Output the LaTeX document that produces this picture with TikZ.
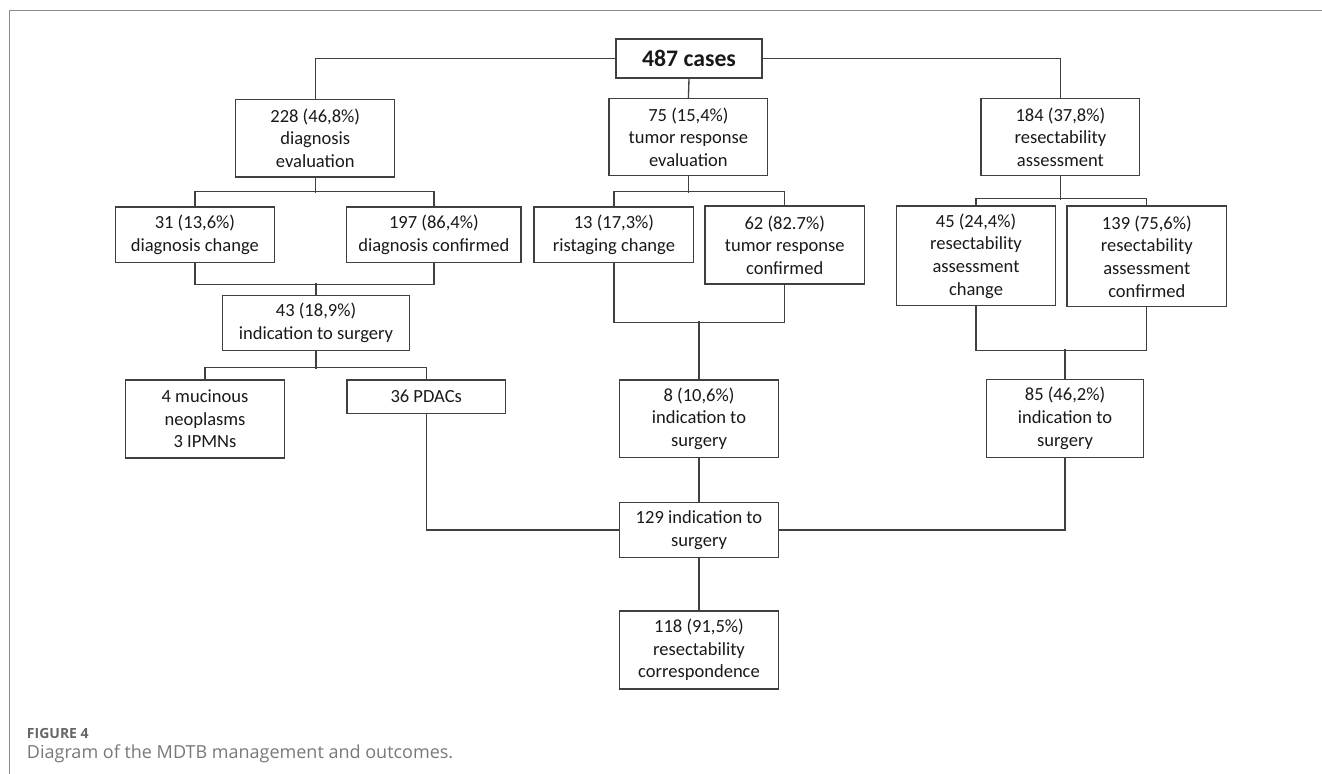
\documentclass[tikz,border=0pt]{standalone}
\usepackage{fontspec}
\setmainfont{Carlito}
\newfontfamily\capfont{Open Sans}
\usetikzlibrary{arrows}

\definecolor{linegray}{RGB}{64,64,64}
\definecolor{framegray}{RGB}{138,138,138}
\definecolor{capgray}{RGB}{120,120,120}

\tikzset{
  box/.style={draw=linegray, line width=1pt, align=center, inner sep=0.75pt,
    font=\fontsize{13.9}{17}\selectfont, text=black!90},
  sz/.style 2 args={minimum width=#1*0.75pt, minimum height=#2*0.75pt},
  link/.style={draw=linegray, line width=1pt},
}

\begin{document}
\begin{tikzpicture}[x=0.75pt,y=0.75pt,yscale=-1,xscale=1]
\useasboundingbox (0,0) rectangle (1322,774);

%Frame lines
\draw [framegray, line width=1.1pt] (9.3,774) -- (9.3,10.7) -- (1322,10.7) ;

% Top node
\node [box, sz={146}{39}, font=\fontsize{17.8}{21}\selectfont\bfseries] (cases) at (689,58.5) {487 cases};

% Three branches
\node [box, sz={159}{77.7}] (diag) at (315.2,138.2) {228 (46,8\%)\\diagnosis\\evaluation};
\node [box, sz={158.7}{76.6}] (tumor) at (688.4,137) {75 (15,4\%)\\tumor response\\evaluation};
\node [box, sz={158.8}{76.6}] (resect) at (1060.4,137) {184 (37,8\%)\\resectability\\assessment};

% Left branch
\node [box, sz={159}{55.3}] (diagchg) at (194.9,234.7) {31 (13,6\%)\\diagnosis change};
\node [box, sz={174.2}{55.3}] (diagconf) at (433.9,234.7) {197 (86,4\%)\\diagnosis confirmed};
\node [box, sz={187}{55.4}] (diagsurg) at (316,323) {43 (18,9\%)\\indication to surgery};
\node [box, sz={159}{78}] (mucin) at (205,419) {4 mucinous\\neoplasms\\3 IPMNs};
\node [box, sz={158.7}{33.3}] (pdac) at (426.2,396.7) {36 PDACs};

% Middle branch
\node [box, sz={159.7}{55.3}] (tumorchg) at (613.9,234.7) {13 (17,3\%)\\ristaging change};
\node [box, sz={159.5}{78}] (tumorconf) at (784.7,245) {62 (82.7\%)\\tumor response\\confirmed};
\node [box, sz={159.5}{77.3}] (tumorsurg) at (699,418.7) {8 (10,6\%)\\indication to\\surgery};

% Right branch
\node [box, sz={159}{99.7}] (resectchg) at (976,255.9) {45 (24,4\%)\\resectability\\assessment\\change};
\node [box, sz={159.5}{100.5}] (resectconf) at (1146.8,256.3) {139 (75,6\%)\\resectability\\assessment\\confirmed};
\node [box, sz={157.4}{78}] (resectsurg) at (1065,418.3) {85 (46,2\%)\\indication to\\surgery};

% Bottom
\node [box, sz={159.3}{54.6}] (allsurg) at (699,530) {129 indication to\\surgery};
\node [box, sz={159.3}{78}] (corresp) at (699,650) {118 (91,5\%)\\resectability\\correspondence};

%Connectors from top
\draw [link] (cases.west) -| (diag.north) ;
\draw [link] (cases.east) -| (resect.north) ;
\draw [link] (cases.south) -- (tumor.north) ;

%Connectors left branch
\draw [link] (diag.south) -- ++(0,15.3) ;
\draw [link] (diagchg.north) -- ++(0,-14.7) -| (diagconf.north) ;
\draw [link] (diagchg.south) -- ++(0,21.7) -| (diagconf.south) ;
\draw [link] (diagsurg.north) -- ++(0,-11.3) ;
\draw [link] (diagsurg.south) -- ++(0,17.6) ;
\draw [link] (mucin.north) -- ++(0,-11.7) -| (pdac.north) ;
\draw [link] (pdac.south) |- (allsurg.west) ;

%Connectors middle branch
\draw [link] (tumor.south) -- ++(0,17) ;
\draw [link] (tumorchg.north) -- ++(0,-14.7) -| (tumorconf.north) ;
\draw [link] (tumorchg.south) -- ++(0,59.4) -| (tumorconf.south) ;
\draw [link] (tumorsurg.north) -- ++(0,-58.3) ;
\draw [link] (tumorsurg.south) -- (allsurg.north) ;

%Connectors right branch
\draw [link] (resect.south) -- ++(0,23.7) ;
\draw [link] (resectchg.north) -- ++(0,-7) -| (resectconf.north) ;
\draw [link] (resectchg.south) -- ++(0,44.3) -| (resectconf.south) ;
\draw [link] (resectsurg.north) -- ++(0,-29.3) ;
\draw [link] (resectsurg.south) |- (allsurg.east) ;

\draw [link] (allsurg.south) -- (corresp.north) ;

% Text Node
\node [anchor=base west, inner sep=0pt, text=capgray!85!black, font=\capfont\fontsize{10.5}{12}\selectfont\bfseries] (figlabel) at (26.7,738) {FIGURE 4};
\node [anchor=base west, inner sep=0pt, text=capgray, font=\capfont\fontsize{13.5}{16}\selectfont] (caption) at (26.7,758) {Diagram of the MDTB management and outcomes.};
\end{tikzpicture}
\end{document}
